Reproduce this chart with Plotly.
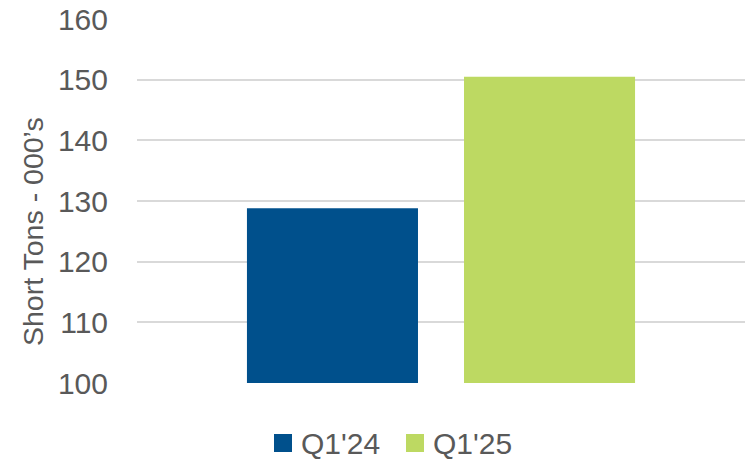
import plotly.graph_objects as go

# Quarterly shipments, thousands of short tons
categories = [""]
series_names = ["Q1'24", "Q1'25"]
series_values = [[128.8], [150.5]]
series_colors = ["#00508C", "#BDD962"]
y_ticks = [100, 110, 120, 130, 140, 150, 160]

FONT = "Liberation Sans, Arial, sans-serif"
TEXT = "#595959"
W, H = 749, 460
ML, MR, MT, MB = 137, 4, 19, 77

fig = go.Figure()
for name, vals, col in zip(series_names, series_values, series_colors):
    fig.add_trace(go.Bar(x=categories, y=vals, name=name, showlegend=False,
                         marker=dict(color=col, line=dict(width=0))))

fig.update_layout(
    width=W, height=H,
    margin=dict(l=ML, r=MR, t=MT, b=MB, autoexpand=False),
    paper_bgcolor="white", plot_bgcolor="white",
    barmode="group", bargap=0.286, bargroupgap=0.212,
    font=dict(family=FONT, color=TEXT, size=30),
)
fig.update_xaxes(showticklabels=False, showgrid=False, zeroline=False, showline=False)
fig.update_yaxes(range=[100, 160], tickvals=y_ticks, showgrid=True, gridcolor="#D9D9D9",
                 gridwidth=1.5, zeroline=False, showline=False, ticklabelstandoff=28,
                 tickfont=dict(size=30, color=TEXT))
fig.add_annotation(text="Short Tons - 000\u2019s", textangle=-90, xref="paper", yref="paper",
                   x=(33 - ML) / (W - ML - MR), y=(H - MB - 232) / (H - MT - MB),
                   xanchor="center", yanchor="middle", showarrow=False,
                   font=dict(size=28.5, color=TEXT, family=FONT))

# Legend: swatch + label per series, laid out in pixel terms below the plot
pw, ph = W - ML - MR, H - MT - MB
def px_x(x):
    return (x - ML) / pw
def px_y(y):
    return (H - MB - y) / ph

legend_x = [274, 406]
for name, col, lx in zip(series_names, series_colors, legend_x):
    fig.add_shape(type="rect", xref="paper", yref="paper",
                  x0=px_x(lx), x1=px_x(lx + 18), y0=px_y(452), y1=px_y(434),
                  fillcolor=col, line=dict(width=0))
    fig.add_annotation(text=name, xref="paper", yref="paper", x=px_x(lx + 25), y=px_y(443),
                       xanchor="left", yanchor="middle", showarrow=False,
                       font=dict(size=30, color=TEXT, family=FONT))

fig.write_html("out.html")
